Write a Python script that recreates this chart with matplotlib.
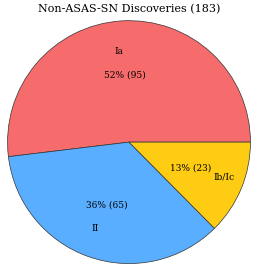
import matplotlib
matplotlib.use("Agg")
import matplotlib.pyplot as plt

# Supernova types among non-ASAS-SN discoveries
labels = ["Ia", "II", "Ib/Ic"]
counts = [95, 65, 23]
colors = ["#f66b6b", "#5aaeff", "#ffcc14"]
total = sum(counts)

plt.rcParams["font.family"] = ["DejaVu Serif"]

fig = plt.figure(figsize=(2.58, 2.72), dpi=100)
ax = fig.add_axes([0.029, 0.031, 0.942, 0.893])


def fmt(pct):
    n = int(round(pct * total / 100.0))
    return "%d%% (%d)" % (round(pct), n)


wedges, texts, autotexts = ax.pie(
    counts, labels=labels, colors=colors, startangle=0,
    autopct=fmt, pctdistance=0.55, labeldistance=0.75,
    wedgeprops=dict(edgecolor="#333333", linewidth=0.5),
    textprops=dict(fontsize=6.5),
)
ax.set_xlim(-1, 1)
ax.set_ylim(-1, 1)
ax.set_aspect("equal")

fig.text(0.5, 1 - 9 / 272, "Non-ASAS-SN Discoveries (%d)" % total,
         ha="center", va="center", fontsize=8)

fig.savefig("out.png", dpi=100)
